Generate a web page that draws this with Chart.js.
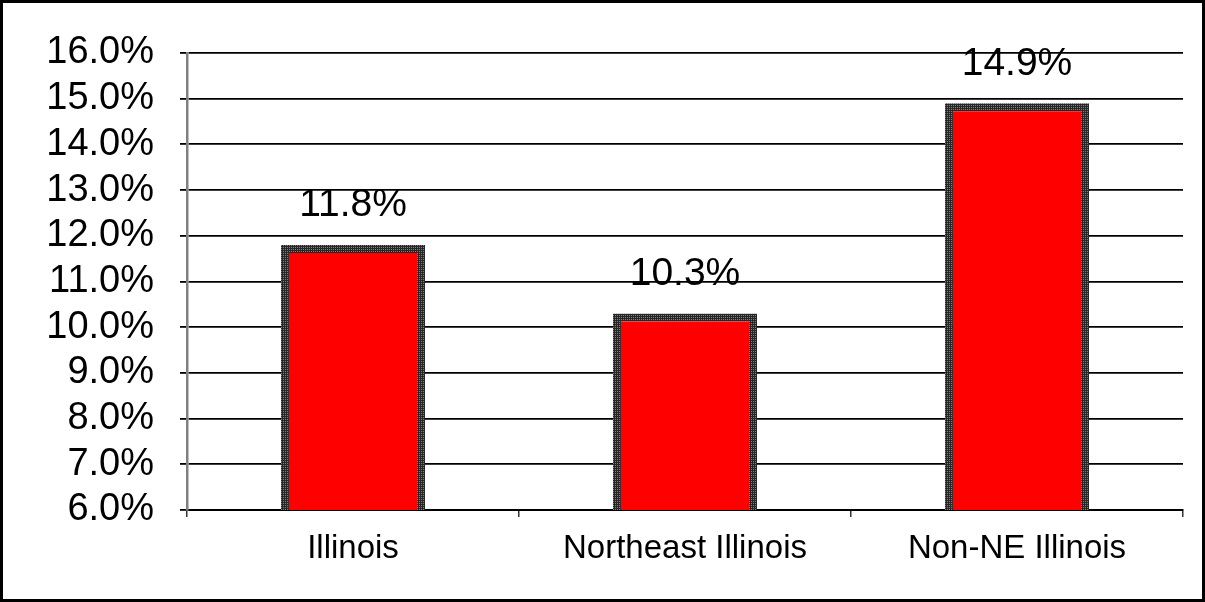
<!DOCTYPE html>
<html>
<head>
<meta charset="utf-8">
<script src="https://cdn.jsdelivr.net/npm/chart.js@4/dist/chart.umd.min.js"></script>
<style>
    html, body { margin: 0; padding: 0; background: #fff; }
    #frame {
        width: 1205px;
        height: 602px;
        box-sizing: border-box;
        border: 3px solid #000;
        position: relative;
    }
    #chart-wrap { width: 1199px; height: 596px; position: relative; }
</style>
</head>
<body>
<div id="frame">
    <div id="chart-wrap"><canvas id="barChart"></canvas></div>
</div>
<script>
// Chart data
const regions = ['Illinois', 'Northeast Illinois', 'Non-NE Illinois'];
const rates = [11.8, 10.3, 14.9];
const yMin = 6;
const yMax = 16;
const yStep = 1;

const fontFamily = '"Liberation Sans", Arial, sans-serif';

// Dotted dark grey border like the original bars
function makeBorderPattern() {
    const tile = document.createElement('canvas');
    tile.width = 2;
    tile.height = 2;
    const t = tile.getContext('2d');
    t.fillStyle = '#262626';
    t.fillRect(0, 0, 2, 2);
    t.fillStyle = '#808080';
    t.fillRect(0, 0, 1, 1);
    return t.createPattern(tile, 'repeat');
}

// Value labels above each bar
const valueLabels = {
    id: 'valueLabels',
    afterDatasetsDraw(chart) {
        const ctx = chart.ctx;
        const meta = chart.getDatasetMeta(0);
        ctx.save();
        ctx.font = '39px ' + fontFamily;
        ctx.fillStyle = '#000';
        ctx.textAlign = 'center';
        ctx.textBaseline = 'bottom';
        meta.data.forEach((bar, i) => {
            ctx.fillText(rates[i].toFixed(1) + '%', bar.x, bar.y - 20);
        });
        ctx.restore();
    }
};

document.addEventListener('DOMContentLoaded', () => {
    const ctx = document.getElementById('barChart').getContext('2d');

    new Chart(ctx, {
        type: 'bar',
        data: {
            labels: regions,
            datasets: [{
                data: rates,
                backgroundColor: '#ff0000',
                borderColor: makeBorderPattern(),
                borderWidth: 8,
                borderSkipped: false,
                barPercentage: 1,
                categoryPercentage: 0.434
            }]
        },
        options: {
            responsive: true,
            maintainAspectRatio: false,
            animation: false,
            layout: {
                padding: { top: 50, right: 19, left: 0, bottom: 0 }
            },
            plugins: {
                legend: { display: false },
                tooltip: { enabled: false }
            },
            scales: {
                x: {
                    afterFit: scale => { scale.height = 89; },
                    grid: {
                        drawOnChartArea: false,
                        drawTicks: true,
                        tickLength: 7,
                        color: '#333',
                        lineWidth: 1.5
                    },
                    border: { color: '#000', width: 2 },
                    ticks: {
                        color: '#000',
                        padding: 12,
                        font: { family: fontFamily, size: 33 }
                    }
                },
                y: {
                    min: yMin,
                    max: yMax,
                    afterFit: scale => { scale.width = 184; },
                    grid: {
                        color: '#000',
                        lineWidth: 1.8,
                        tickLength: 7
                    },
                    border: { color: '#808080', width: 2.5 },
                    ticks: {
                        stepSize: yStep,
                        autoSkip: false,
                        color: '#000',
                        padding: 26,
                        font: { family: fontFamily, size: 38, lineHeight: 1 },
                        callback: v => v.toFixed(1) + '%'
                    }
                }
            }
        },
        plugins: [valueLabels]
    });
});
</script>
</body>
</html>
